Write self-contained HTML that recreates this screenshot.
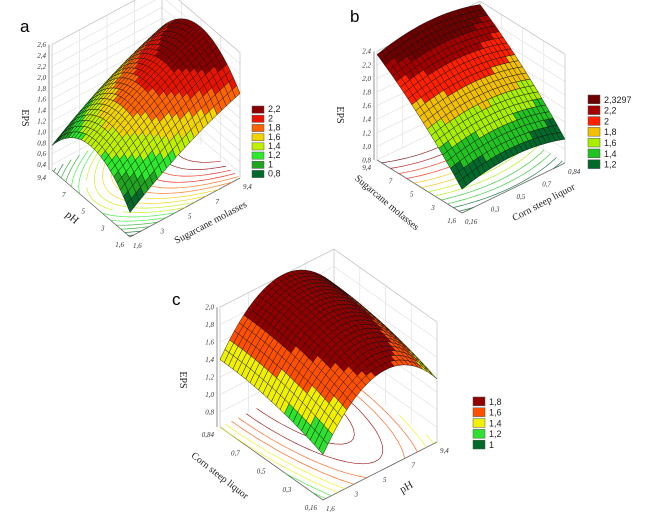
<!DOCTYPE html>
<html><head><meta charset="utf-8"><style>
html,body{margin:0;padding:0;background:#fff}
svg{display:block;font-family:"Liberation Serif",serif}
</style></head><body>
<svg id="fig" width="657" height="516" viewBox="0 0 657 516">
<rect width="657" height="516" fill="#fff"/>
</svg>
<script>
// ---- data: quadratic surface coefficients z = c0 + c1*r + c2*r^2 + c3*l + c4*l^2 (r,l normalised 0..1)
const coefA = [0.75, 1.5, -0.4, 2.4, -2.4];
const coefB = [1.15, 0.5, -0.5, 1.5, -0.3];
const coefC = [1.15, 2.2, -2.0, 0.5, -0.25];
// legend levels
const levelsA = [0.8, 1, 1.2, 1.4, 1.6, 1.8, 2, 2.2];
const labelsA = ["0,8","1","1,2","1,4","1,6","1,8","2","2,2"];
const levelsB = [1.2, 1.4, 1.6, 1.8, 2, 2.2, 2.3297];
const labelsB = ["1,2","1,4","1,6","1,8","2","2,2","2,3297"];
const levelsC = [1, 1.2, 1.4, 1.6, 1.8];
const labelsC = ["1","1,2","1,4","1,6","1,8"];
// axis ticks
const zTicksA = [0.4,0.6,0.8,1.0,1.2,1.4,1.6,1.8,2.0,2.2,2.4,2.6];
const zTicksB = [0.8,1.0,1.2,1.4,1.6,1.8,2.0,2.2,2.4];
const zTicksC = [0.8,1.0,1.2,1.4,1.6,1.8,2.0];
const phTicks = ["1,6","3","5","7","9,4"];
const molTicks = ["1,6","3","5","7","9,4"];
const cslTicks = ["0,16","0,3","0,5","0,7","0,84"];

const colA = ['#006a2a','#1fa51f','#2ee82e','#bff000','#f2d400','#ff6400','#e81400','#8a0000'];
const colB = ['#006a2a','#22c222','#a8f000','#f2c000','#ff2000','#a50000','#6e0000'];
const colC = ['#006a2a','#30e030','#f0f000','#ff5000','#900000'];

const NS = "http://www.w3.org/2000/svg";
const svg = document.getElementById('fig');
function el(tag, attrs, parent){ const e=document.createElementNS(NS,tag); for(const k in attrs) e.setAttribute(k,attrs[k]); (parent||svg).appendChild(e); return e; }

function panel(P){
  const g = el('g',{});
  
  
  const f = (r,l)=>P.coef[0]+P.coef[1]*r+P.coef[2]*r*r+P.coef[3]*l+P.coef[4]*l*l;
  const pr = (r,l,z)=>[P.F[0]+P.R[0]*r+P.L[0]*l, P.F[1]+P.R[1]*r+P.L[1]*l-(z-P.zmin)*P.zpx];
  const pt = a=>a[0].toFixed(1)+','+a[1].toFixed(1);
  const colorOf = z=>{ let i=0; for(let k=0;k<P.levels.length;k++) if(z>=P.levels[k]-0.05) i=k; return P.cols[i]; };
  const walls = el('g',{},g);
  
  
  const zt = P.zTicks;
  zt.forEach(z=>{
    el('polyline',{points:[pr(0,1,z),pr(1,1,z),pr(1,0,z)].map(pt).join(' '),fill:'none',stroke:'#e2e2e2','stroke-width':0.7},walls);
  });
  for(let t=0.25;t<1;t+=0.25){
    el('line',{x1:pr(t,1,P.zmin)[0],y1:pr(t,1,P.zmin)[1],x2:pr(t,1,P.zmax)[0],y2:pr(t,1,P.zmax)[1],stroke:'#e2e2e2','stroke-width':0.7},walls);
    el('line',{x1:pr(1,t,P.zmin)[0],y1:pr(1,t,P.zmin)[1],x2:pr(1,t,P.zmax)[0],y2:pr(1,t,P.zmax)[1],stroke:'#e2e2e2','stroke-width':0.7},walls);
  }
  [[0,1],[1,1],[1,0]].forEach(c=>{
    el('line',{x1:pr(c[0],c[1],P.zmin)[0],y1:pr(c[0],c[1],P.zmin)[1],x2:pr(c[0],c[1],P.zmax)[0],y2:pr(c[0],c[1],P.zmax)[1],stroke:'#c8c8c8','stroke-width':0.8},walls);
  });
  el('polyline',{points:[pr(0,1,P.zmax),pr(1,1,P.zmax),pr(1,0,P.zmax)].map(pt).join(' '),fill:'none',stroke:'#c8c8c8','stroke-width':0.8},walls);
  el('polyline',{points:[pr(0,1,P.zmin),pr(0,0,P.zmin),pr(1,0,P.zmin)].map(pt).join(' '),fill:'none',stroke:'#666','stroke-width':0.8},walls);
  el('line',{x1:pr(0,1,P.zmin)[0]-3,y1:pr(0,1,P.zmin)[1],x2:pr(0,1,P.zmax)[0]-3,y2:pr(0,1,P.zmax)[1],stroke:'#777','stroke-width':0.8},walls);
  zt.forEach(z=>{
    const p=pr(0,1,z);
    const t=el('text',{x:p[0]-6,y:p[1]+2.5,'font-size':7,'font-style':'italic','text-anchor':'end',fill:'#333'},g);
    
    
    t.textContent=z.toFixed(1).replace('.',',');
  });
  const N=30, ctr=el('g',{},g);
  
  
  for(let lv=P.cmin; lv<=P.cmax+1e-9; lv+=P.cstep){
    const col=colorOf(lv); let d='';
    for(let i=0;i<N;i++)for(let j=0;j<N;j++){
      const r0=i/N,r1=(i+1)/N,l0=j/N,l1=(j+1)/N;
      const c=[[r0,l0],[r1,l0],[r1,l1],[r0,l1]], v=c.map(q=>f(q[0],q[1]));
      const pts=[];
      for(let e=0;e<4;e++){const a=e,b=(e+1)%4; if((v[a]-lv)*(v[b]-lv)<0){const t=(lv-v[a])/(v[b]-v[a]); pts.push(pr(c[a][0]+t*(c[b][0]-c[a][0]),c[a][1]+t*(c[b][1]-c[a][1]),P.zmin));}}
      for(let k=0;k+1<pts.length;k+=2) d+='M'+pt(pts[k])+'L'+pt(pts[k+1]);
    }
    if(d) el('path',{d:d,stroke:col,'stroke-width':0.7,fill:'none',opacity:0.85},ctr);
  }
  const M=P.M, quads=[];
  for(let i=0;i<M;i++)for(let j=0;j<M;j++){
    const r0=i/M,r1=(i+1)/M,l0=j/M,l1=(j+1)/M;
    const c=[[r0,l0],[r1,l0],[r1,l1],[r0,l1]];
    const z=c.map(q=>f(q[0],q[1]));
    quads.push({c,z,depth:r0+l0});
  }
  quads.sort((a,b)=>b.depth-a.depth);
  const surf=el('g',{},g);
  
  
  quads.forEach(q=>{
    const p=q.c.map((c,k)=>pr(c[0],c[1],q.z[k]));
    const cr=(p[2][0]-p[0][0])*(p[3][1]-p[1][1])-(p[2][1]-p[0][1])*(p[3][0]-p[1][0]);
    const zm=(q.z[0]+q.z[1]+q.z[2]+q.z[3])/4;
    const fill = cr>0 ? '#e8e8e8' : colorOf(zm);
    el('polygon',{points:p.map(pt).join(' '),fill:fill,stroke:'#111','stroke-width':0.45},surf);
  });
  P.rTicks.forEach((s,k)=>{
    const p=pr(k/(P.rTicks.length-1),0,P.zmin);
    const t=el('text',{x:p[0]+3,y:p[1]+11,'font-size':7,'font-style':'italic',fill:'#333'},g);
    
    
    t.textContent=s;
  });
  P.lTicks.forEach((s,k)=>{
    const p=pr(0,k/(P.lTicks.length-1),P.zmin);
    const t=el('text',{x:p[0]-6,y:p[1]+10,'font-size':7,'font-style':'italic','text-anchor':'end',fill:'#333'},g);
    
    
    t.textContent=s;
  });
  P.titles.forEach(T=>{
    const t=el('text',{x:T[1],y:T[2],'font-size':T[4]||10,'text-anchor':'middle',fill:'#222',transform:`rotate(${T[3]} ${T[1]} ${T[2]})`},g);
    
    
    t.textContent=T[0];
  });
  const lt=el('text',{x:P.letter[1],y:P.letter[2],'font-size':17,'font-family':'Liberation Sans, sans-serif',fill:'#000'},g);
  
  
  lt.textContent=P.letter[0];
  const lg=el('g',{},g);
  
  
  const n=P.levels.length;
  for(let k=0;k<n;k++){
    const idx=n-1-k, y=P.leg[1]+k*P.leg[2];
    const r=el('rect',{x:P.leg[0],y:y,width:12,height:P.leg[2]-2,fill:P.cols[idx],stroke:'#555','stroke-width':0.5},lg);
    
    
    const t=el('text',{x:P.leg[0]+16,y:y+P.leg[2]-3,'font-size':9,'font-family':'Liberation Sans, sans-serif',fill:'#222'},lg);
    
    
    t.textContent=P.labels[idx];
  }
}

panel({name:'panel-a',coef:coefA,F:[130,237],R:[110,-59],L:[-78,-67],zmin:0.3,zmax:2.6,zpx:54.5,M:24,
  levels:levelsA,labels:labelsA,cols:colA,zTicks:zTicksA,cmin:0.5,cmax:2.3,cstep:0.1,
  rTicks:molTicks,lTicks:phTicks,leg:[252,106,9.2],letter:['a',20,32],
  titles:[['EPS',22,118,90,10,'z-axis-title'],['pH',70,220,40,11,'ph-axis-title'],['Sugarcane molasses',212,225,-28,10,'molasses-axis-title']]});
panel({name:'panel-b',coef:coefB,F:[462,213],R:[103,-50],L:[-85,-53],zmin:0.8,zmax:2.4,zpx:68,M:22,
  levels:levelsB,labels:labelsB,cols:colB,zTicks:zTicksB,cmin:1.2,cmax:2.3,cstep:0.1,
  rTicks:cslTicks,lTicks:molTicks,leg:[588,95,10.8],letter:['b',350,22],
  titles:[['EPS',337,115,90,10,'z-axis-title'],['Sugarcane molasses',385,205,40,10,'molasses-axis-title'],['Corn steep liquor',545,205,-28,10,'csl-axis-title']]});
panel({name:'panel-c',coef:coefC,F:[323,500],R:[114,-58],L:[-103,-73],zmin:0.63,zmax:2.0,zpx:87.5,M:24,
  levels:levelsC,labels:labelsC,cols:colC,zTicks:zTicksC,cmin:1.0,cmax:1.95,cstep:0.1,
  rTicks:phTicks,lTicks:cslTicks,leg:[473,397,10.8],letter:['c',172,305],
  titles:[['EPS',180,380,90,10,'z-axis-title'],['Corn steep liquor',218,478,38,10,'csl-axis-title'],['pH',408,490,-30,11,'ph-axis-title']]});
</script>
</body></html>
